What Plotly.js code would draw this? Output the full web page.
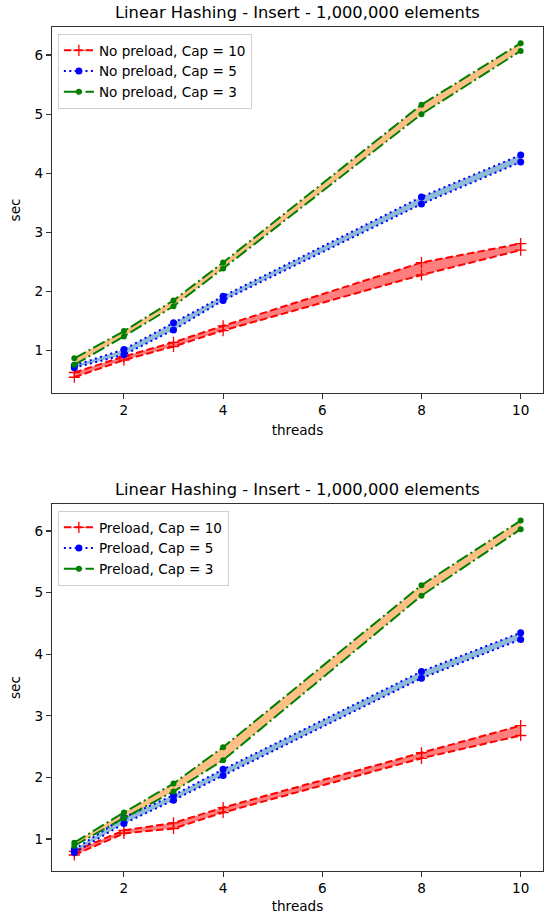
<!DOCTYPE html>
<html>
<head>
<meta charset="utf-8">
<script src="https://cdn.plot.ly/plotly-3.0.1.min.js"></script>
<style>html,body{margin:0;padding:0;background:#fff;}#chart{width:552px;height:914px;}</style>
</head>
<body>
<div id="chart"></div>
<script>
// ---- data ----
const threads = [1, 2, 3, 4, 8, 10];
const xTicks = [2, 4, 6, 8, 10];
const yTicks = [1, 2, 3, 4, 5, 6];
const chartTitle = "Linear Hashing - Insert - 1,000,000 elements";

// No preload (top)
const noPreCap10Hi = [0.63, 0.90, 1.14, 1.42, 2.49, 2.81];
const noPreCap10Lo = [0.55, 0.84, 1.07, 1.34, 2.28, 2.70];
const noPreCap5Hi  = [0.75, 1.02, 1.47, 1.92, 3.60, 4.31];
const noPreCap5Lo  = [0.71, 0.93, 1.35, 1.85, 3.48, 4.19];
const noPreCap3Hi  = [0.87, 1.33, 1.85, 2.49, 5.16, 6.20];
const noPreCap3Lo  = [0.76, 1.24, 1.75, 2.39, 5.00, 6.07];

// Preload (bottom)
const preCap10Hi = [0.80, 1.14, 1.26, 1.51, 2.40, 2.84];
const preCap10Lo = [0.74, 1.09, 1.17, 1.43, 2.31, 2.68];
const preCap5Hi  = [0.83, 1.35, 1.71, 2.13, 3.72, 4.35];
const preCap5Lo  = [0.78, 1.25, 1.63, 2.03, 3.61, 4.24];
const preCap3Hi  = [0.94, 1.43, 1.90, 2.49, 5.12, 6.17];
const preCap3Lo  = [0.89, 1.34, 1.77, 2.28, 4.95, 6.03];

const topNames = ["No preload, Cap = 10", "No preload, Cap = 5", "No preload, Cap = 3"];
const botNames = ["Preload, Cap = 10", "Preload, Cap = 5", "Preload, Cap = 3"];

// ---- styles ----
const styles = [
  {color: "#ff0000", fill: "rgba(255,0,0,0.5)", dash: "7.5px,3.3px",
   marker: {symbol: "cross-thin", size: 8, color: "#ff0000", line: {color: "#ff0000", width: 1.3}}},
  {color: "#0000ff", fill: "rgba(31,119,180,0.5)", dash: "2px,3.4px",
   marker: {symbol: "circle", size: 7, color: "#0000ff"}},
  {color: "#008000", fill: "rgba(255,127,14,0.5)", dash: "13px,3.3px,2px,3.3px",
   marker: {symbol: "circle", size: 6, color: "#008000"}}
];

const FONT = "DejaVu Sans, Liberation Sans, sans-serif";
const traces = [];

function addPanel(his, los, names, xa, ya, legendId) {
  // fills first
  for (let i = 0; i < 3; i++) {
    traces.push({x: threads, y: los[i], xaxis: xa, yaxis: ya, mode: "lines",
      line: {width: 0, color: styles[i].fill}, showlegend: false, hoverinfo: "skip"});
    traces.push({x: threads, y: his[i], xaxis: xa, yaxis: ya, mode: "lines",
      line: {width: 0, color: styles[i].fill}, fill: "tonexty", fillcolor: styles[i].fill,
      showlegend: false, hoverinfo: "skip"});
  }
  // lines
  for (let i = 0; i < 3; i++) {
    const s = styles[i];
    traces.push({x: threads, y: his[i], xaxis: xa, yaxis: ya, mode: "lines+markers",
      name: names[i], legend: legendId, showlegend: true,
      line: {color: s.color, width: 2, dash: s.dash}, marker: s.marker});
    traces.push({x: threads, y: los[i], xaxis: xa, yaxis: ya, mode: "lines+markers",
      name: names[i], legend: legendId, showlegend: false,
      line: {color: s.color, width: 2, dash: s.dash}, marker: s.marker});
  }
}

addPanel([noPreCap10Hi, noPreCap5Hi, noPreCap3Hi], [noPreCap10Lo, noPreCap5Lo, noPreCap3Lo], topNames, "x", "y", "legend");
addPanel([preCap10Hi, preCap5Hi, preCap3Hi], [preCap10Lo, preCap5Lo, preCap3Lo], botNames, "x2", "y2", "legend2");

const axisCommon = {
  showgrid: false, zeroline: false, showline: true, mirror: true,
  linecolor: "#333", linewidth: 1.1, ticks: "outside", ticklen: 5, tickwidth: 1.1, tickcolor: "#333",
  tickfont: {family: FONT, size: 13.6, color: "#000"}
};
const xCommon = Object.assign({}, axisCommon, {range: [0.55, 10.45], tickvals: xTicks,
  title: {text: "threads", font: {family: FONT, size: 13.6, color: "#000"}, standoff: 8}});
const yCommon = Object.assign({}, axisCommon, {tickvals: yTicks,
  title: {text: "sec", font: {family: FONT, size: 13.6, color: "#000"}, standoff: 10}});

const legendCommon = {
  xanchor: "left", yanchor: "top", bgcolor: "rgba(255,255,255,0.8)",
  bordercolor: "#d0d0d0", borderwidth: 1, font: {family: FONT, size: 13.6, color: "#000"},
  tracegroupgap: 0, traceorder: "normal"
};

const layout = {
  width: 552, height: 914,
  margin: {l: 52, r: 9, t: 27, b: 43},
  paper_bgcolor: "#fff", plot_bgcolor: "#fff",
  font: {family: FONT, size: 13.6, color: "#000"},
  xaxis: Object.assign({}, xCommon, {domain: [0, 1], anchor: "y"}),
  yaxis: Object.assign({}, yCommon, {domain: [0.5664, 1], anchor: "x", range: [0.284, 6.474]}),
  xaxis2: Object.assign({}, xCommon, {domain: [0, 1], anchor: "y2"}),
  yaxis2: Object.assign({}, yCommon, {domain: [0, 0.4348], anchor: "x2", range: [0.48, 6.438]}),
  legend: Object.assign({}, legendCommon, {x: 0.012, y: 0.9917}),
  legend2: Object.assign({}, legendCommon, {x: 0.012, y: 0.4265}),
  annotations: [
    {text: chartTitle, xref: "paper", yref: "paper", x: 0.5, y: 1.0172, xanchor: "center", yanchor: "middle",
     showarrow: false, font: {family: FONT, size: 16.3, color: "#000"}},
    {text: chartTitle, xref: "paper", yref: "paper", x: 0.5, y: 0.4526, xanchor: "center", yanchor: "middle",
     showarrow: false, font: {family: FONT, size: 16.3, color: "#000"}}
  ],
  showlegend: true
};

Plotly.newPlot("chart", traces, layout, {displayModeBar: false, staticPlot: true});
</script>
</body>
</html>
